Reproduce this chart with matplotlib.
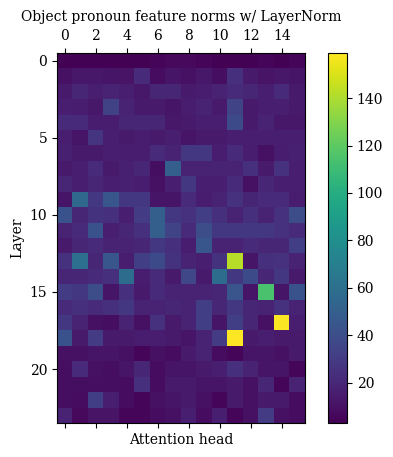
import matplotlib
matplotlib.use("Agg")
import matplotlib.pyplot as plt
import numpy as np

plt.rcParams['font.family'] = 'DejaVu Serif'
plt.rcParams['font.size'] = 10

# feature norms per layer (rows) and attention head (columns)
row_00 = [4, 4, 4, 4, 4, 4, 5, 7, 7, 5, 4, 4, 4, 5, 4, 6]
row_01 = [10, 13, 13, 12, 11, 22, 8, 12, 10, 13, 9, 24, 14, 11, 13, 12]
row_02 = [14, 20, 16, 18, 16, 13, 20, 20, 14, 15, 18, 22, 20, 16, 22, 14]
row_03 = [16, 15, 13, 33, 18, 14, 14, 12, 15, 18, 14, 35, 14, 16, 16, 14]
row_04 = [22, 22, 15, 15, 20, 20, 20, 13, 14, 16, 16, 38, 14, 18, 13, 13]
row_05 = [16, 12, 27, 16, 14, 15, 14, 16, 12, 14, 14, 16, 16, 16, 16, 16]
row_06 = [17, 14, 14, 16, 15, 15, 22, 18, 28, 28, 15, 22, 15, 10, 15, 17]
row_07 = [14, 16, 22, 14, 17, 20, 9, 50, 18, 18, 18, 18, 24, 14, 25, 16]
row_08 = [20, 16, 20, 16, 17, 15, 10, 16, 28, 16, 16, 22, 10, 20, 16, 16]
row_09 = [12, 55, 28, 45, 28, 28, 12, 12, 22, 15, 18, 25, 19, 22, 22, 15]
row_10 = [42, 20, 26, 24, 16, 30, 50, 28, 25, 32, 24, 18, 24, 18, 25, 40]
row_11 = [18, 22, 42, 16, 20, 24, 50, 35, 22, 40, 28, 28, 28, 28, 25, 22]
row_12 = [14, 20, 22, 18, 18, 20, 28, 24, 15, 45, 18, 18, 22, 20, 20, 32]
row_13 = [25, 60, 20, 45, 15, 32, 38, 26, 18, 16, 26, 142, 12, 24, 25, 18]
row_14 = [20, 20, 22, 24, 58, 15, 22, 14, 36, 14, 58, 28, 38, 20, 28, 14]
row_15 = [30, 28, 40, 12, 24, 14, 22, 18, 18, 18, 20, 44, 12, 114, 12, 42]
row_16 = [22, 24, 22, 24, 28, 18, 18, 20, 18, 32, 20, 28, 20, 18, 25, 18]
row_17 = [28, 18, 10, 9, 18, 10, 25, 14, 18, 32, 12, 32, 20, 10, 158, 16]
row_18 = [42, 14, 30, 14, 14, 15, 15, 14, 12, 18, 30, 159, 14, 16, 14, 14]
row_19 = [10, 10, 12, 12, 10, 6, 10, 8, 14, 18, 8, 5, 12, 12, 10, 14]
row_20 = [9, 22, 10, 9, 12, 20, 8, 12, 12, 14, 16, 24, 18, 12, 12, 6]
row_21 = [9, 9, 9, 9, 8, 24, 8, 14, 14, 12, 12, 14, 10, 20, 5, 18]
row_22 = [9, 8, 32, 16, 8, 6, 10, 12, 14, 10, 6, 14, 10, 14, 14, 8]
row_23 = [18, 7, 11, 11, 6, 6, 8, 10, 16, 8, 16, 6, 10, 30, 10, 8]

norms = np.array([row_00, row_01, row_02, row_03, row_04, row_05, row_06, row_07,
                  row_08, row_09, row_10, row_11, row_12, row_13, row_14, row_15,
                  row_16, row_17, row_18, row_19, row_20, row_21, row_22, row_23])

fig = plt.figure(figsize=(3.93, 4.57), dpi=100)
ax = fig.add_axes([0.145, 0.0744, 0.631, 0.8096])
cax = fig.add_axes([0.8346, 0.0744, 0.048, 0.8096])

im = ax.imshow(norms, cmap='viridis', aspect='auto', vmin=3)
ax.set_xticks(np.arange(0, 16, 2))
ax.set_yticks(np.arange(0, 24, 5))
ax.tick_params(top=True, labeltop=True, bottom=True, labelbottom=False)
ax.set_xlabel('Attention head')
ax.set_ylabel('Layer')
ax.set_title('Object pronoun feature norms w/ LayerNorm', fontsize=10)

fig.colorbar(im, cax=cax)

plt.savefig("out.png", dpi=100)
